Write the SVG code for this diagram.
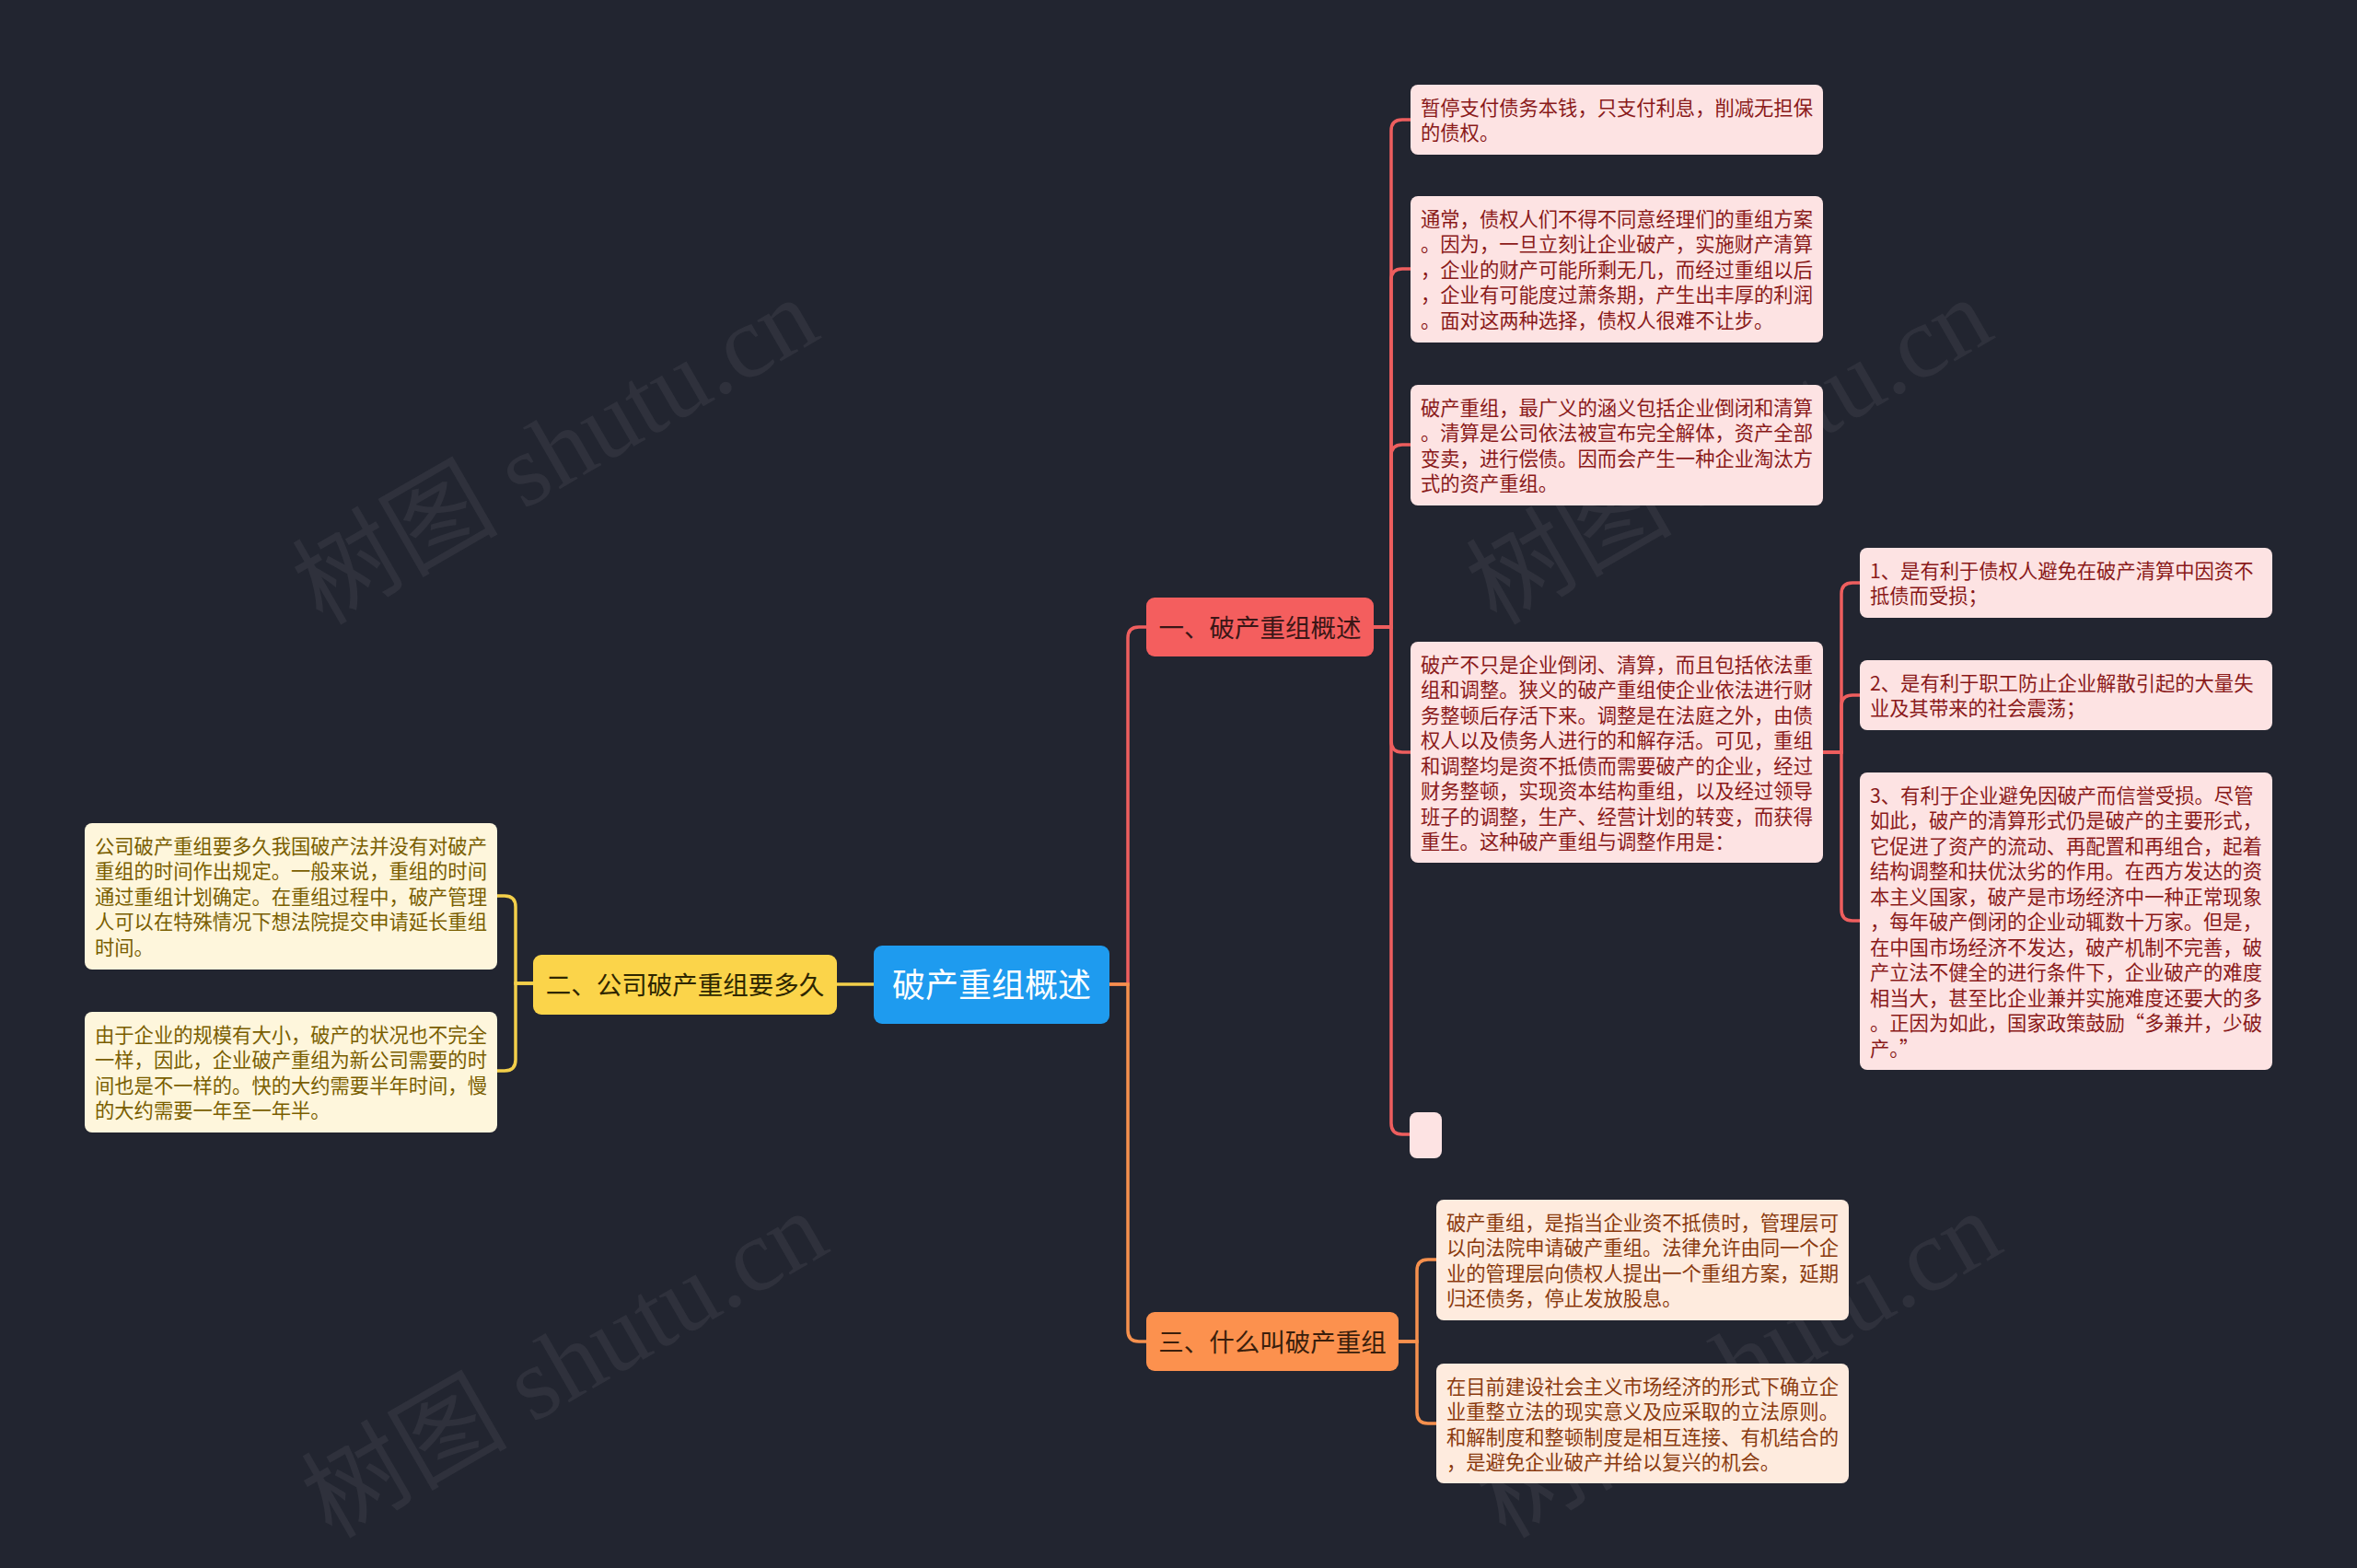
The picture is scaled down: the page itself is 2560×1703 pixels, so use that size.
<svg xmlns="http://www.w3.org/2000/svg" width="2560" height="1703" viewBox="0 0 2560 1703">
<style>
.bg{fill:#222530}
.wm{font-family:"Liberation Serif","Noto Sans CJK SC",serif;font-size:112px;fill:#ffffff;fill-opacity:0.06}
.c{fill:none;stroke-width:3.5;stroke-linecap:round}
.red{stroke:#EE5E5E}
.org{stroke:#F6904D}
.yel{stroke:#F3CF4A}
.t{font-family:"Noto Sans CJK SC","Noto Sans",sans-serif}
.leaf{font-size:21.3px}
.pk rect{fill:#FDE3E3}
.pk text{fill:#8A1A1A}
.yl rect{fill:#FEF6DC}
.yl text{fill:#7A5E00}
.og rect{fill:#FEEBDE}
.og text{fill:#8A3A0E}
.br{font-size:27.5px}
</style>
<rect class="bg" x="0" y="0" width="2560" height="1703"/>
<g id="watermark">
<text class="wm" transform="translate(350,680) rotate(-30)">树图 shutu.cn</text>
<text class="wm" transform="translate(1625,680) rotate(-30)">树图 shutu.cn</text>
<text class="wm" transform="translate(360,1672) rotate(-30)">树图 shutu.cn</text>
<text class="wm" transform="translate(1635,1672) rotate(-30)">树图 shutu.cn</text>
</g>
<g id="connectors">
<path class="c red" d="M1205,1069 H1225 V693 Q1225,681 1237,681 H1245"/>
<path class="c org" d="M1205,1069 H1225 V1445 Q1225,1457 1237,1457 H1245"/>
<path class="c yel" d="M949,1069 H909"/>
<path class="c yel" d="M579,1068 H560 V985 Q560,973 548,973 H540"/>
<path class="c yel" d="M579,1068 H560 V1151 Q560,1163 548,1163 H540"/>
<path class="c red" d="M1492,681 H1511 V142 Q1511,130 1523,130 H1532"/>
<path class="c red" d="M1492,681 H1511 V304 Q1511,292 1523,292 H1532"/>
<path class="c red" d="M1492,681 H1511 V495 Q1511,483 1523,483 H1532"/>
<path class="c red" d="M1492,681 H1511 V805 Q1511,817 1523,817 H1532"/>
<path class="c red" d="M1492,681 H1511 V1220 Q1511,1232 1523,1232 H1531"/>
<path class="c red" d="M1980,817 H2000 V645 Q2000,633 2012,633 H2020"/>
<path class="c red" d="M1980,817 H2000 V767 Q2000,755 2012,755 H2020"/>
<path class="c red" d="M1980,817 H2000 V988 Q2000,1000 2012,1000 H2020"/>
<path class="c org" d="M1519,1457 H1539 V1380 Q1539,1368 1551,1368 H1560"/>
<path class="c org" d="M1519,1457 H1539 V1534 Q1539,1546 1551,1546 H1560"/>
</g>
<g id="root">
<rect x="949" y="1027" width="256" height="85" rx="9" fill="#1E9BEF"/>
<text class="t" x="1077" y="1083" font-size="36" fill="#ffffff" text-anchor="middle">破产重组概述</text>
</g>
<g id="b1">
<rect x="1245" y="649" width="247" height="64" rx="9" fill="#F45E5E"/>
<text class="t br" x="1368.5" y="691.5" fill="#3A1616" text-anchor="middle">一、破产重组概述</text>
</g>
<g id="b2">
<rect x="579" y="1037" width="330" height="65" rx="9" fill="#FBD44A"/>
<text class="t br" x="744" y="1079.5" fill="#2E2600" text-anchor="middle">二、公司破产重组要多久</text>
</g>
<g id="b3">
<rect x="1245" y="1425" width="274" height="64" rx="9" fill="#FC914E"/>
<text class="t br" x="1382" y="1467.5" fill="#3A1E0C" text-anchor="middle">三、什么叫破产重组</text>
</g>
<g id="l1" class="pk">
<rect x="1532" y="92" width="448" height="76" rx="8"/>
<text class="t leaf" x="1543" y="124.5"><tspan x="1543">暂停支付债务本钱，只支付利息，削减无担保</tspan><tspan x="1543" dy="27.5">的债权。</tspan></text>
</g>
<g id="l2" class="pk">
<rect x="1532" y="213" width="448" height="159" rx="8"/>
<text class="t leaf" x="1543" y="245.5"><tspan x="1543">通常，债权人们不得不同意经理们的重组方案</tspan><tspan x="1543" dy="27.5">。因为，一旦立刻让企业破产，实施财产清算</tspan><tspan x="1543" dy="27.5">，企业的财产可能所剩无几，而经过重组以后</tspan><tspan x="1543" dy="27.5">，企业有可能度过萧条期，产生出丰厚的利润</tspan><tspan x="1543" dy="27.5">。面对这两种选择，债权人很难不让步。</tspan></text>
</g>
<g id="l3" class="pk">
<rect x="1532" y="418" width="448" height="131" rx="8"/>
<text class="t leaf" x="1543" y="450.5"><tspan x="1543">破产重组，最广义的涵义包括企业倒闭和清算</tspan><tspan x="1543" dy="27.5">。清算是公司依法被宣布完全解体，资产全部</tspan><tspan x="1543" dy="27.5">变卖，进行偿债。因而会产生一种企业淘汰方</tspan><tspan x="1543" dy="27.5">式的资产重组。</tspan></text>
</g>
<g id="l4" class="pk">
<rect x="1532" y="697" width="448" height="240" rx="8"/>
<text class="t leaf" x="1543" y="729.5"><tspan x="1543">破产不只是企业倒闭、清算，而且包括依法重</tspan><tspan x="1543" dy="27.5">组和调整。狭义的破产重组使企业依法进行财</tspan><tspan x="1543" dy="27.5">务整顿后存活下来。调整是在法庭之外，由债</tspan><tspan x="1543" dy="27.5">权人以及债务人进行的和解存活。可见，重组</tspan><tspan x="1543" dy="27.5">和调整均是资不抵债而需要破产的企业，经过</tspan><tspan x="1543" dy="27.5">财务整顿，实现资本结构重组，以及经过领导</tspan><tspan x="1543" dy="27.5">班子的调整，生产、经营计划的转变，而获得</tspan><tspan x="1543" dy="27.5">重生。这种破产重组与调整作用是：</tspan></text>
</g>
<g id="l5" class="pk">
<rect x="1531" y="1208" width="35" height="50" rx="8"/>
</g>
<g id="s1" class="pk">
<rect x="2020" y="595" width="448" height="76" rx="8"/>
<text class="t leaf" x="2031" y="627.5"><tspan x="2031">1、是有利于债权人避免在破产清算中因资不</tspan><tspan x="2031" dy="27.5">抵债而受损；</tspan></text>
</g>
<g id="s2" class="pk">
<rect x="2020" y="717" width="448" height="76" rx="8"/>
<text class="t leaf" x="2031" y="749.5"><tspan x="2031">2、是有利于职工防止企业解散引起的大量失</tspan><tspan x="2031" dy="27.5">业及其带来的社会震荡；</tspan></text>
</g>
<g id="s3" class="pk">
<rect x="2020" y="839" width="448" height="323" rx="8"/>
<text class="t leaf" x="2031" y="871.5"><tspan x="2031">3、有利于企业避免因破产而信誉受损。尽管</tspan><tspan x="2031" dy="27.5">如此，破产的清算形式仍是破产的主要形式，</tspan><tspan x="2031" dy="27.5">它促进了资产的流动、再配置和再组合，起着</tspan><tspan x="2031" dy="27.5">结构调整和扶优汰劣的作用。在西方发达的资</tspan><tspan x="2031" dy="27.5">本主义国家，破产是市场经济中一种正常现象</tspan><tspan x="2031" dy="27.5">，每年破产倒闭的企业动辄数十万家。但是，</tspan><tspan x="2031" dy="27.5">在中国市场经济不发达，破产机制不完善，破</tspan><tspan x="2031" dy="27.5">产立法不健全的进行条件下，企业破产的难度</tspan><tspan x="2031" dy="27.5">相当大，甚至比企业兼并实施难度还要大的多</tspan><tspan x="2031" dy="27.5">。正因为如此，国家政策鼓励“多兼并，少破</tspan><tspan x="2031" dy="27.5">产。”</tspan></text>
</g>
<g id="y1" class="yl">
<rect x="92" y="894" width="448" height="159" rx="8"/>
<text class="t leaf" x="103" y="926.5"><tspan x="103">公司破产重组要多久我国破产法并没有对破产</tspan><tspan x="103" dy="27.5">重组的时间作出规定。一般来说，重组的时间</tspan><tspan x="103" dy="27.5">通过重组计划确定。在重组过程中，破产管理</tspan><tspan x="103" dy="27.5">人可以在特殊情况下想法院提交申请延长重组</tspan><tspan x="103" dy="27.5">时间。</tspan></text>
</g>
<g id="y2" class="yl">
<rect x="92" y="1099" width="448" height="131" rx="8"/>
<text class="t leaf" x="103" y="1131.5"><tspan x="103">由于企业的规模有大小，破产的状况也不完全</tspan><tspan x="103" dy="27.5">一样，因此，企业破产重组为新公司需要的时</tspan><tspan x="103" dy="27.5">间也是不一样的。快的大约需要半年时间，慢</tspan><tspan x="103" dy="27.5">的大约需要一年至一年半。</tspan></text>
</g>
<g id="o1" class="og">
<rect x="1560" y="1303" width="448" height="131" rx="8"/>
<text class="t leaf" x="1571" y="1335.5"><tspan x="1571">破产重组，是指当企业资不抵债时，管理层可</tspan><tspan x="1571" dy="27.5">以向法院申请破产重组。法律允许由同一个企</tspan><tspan x="1571" dy="27.5">业的管理层向债权人提出一个重组方案，延期</tspan><tspan x="1571" dy="27.5">归还债务，停止发放股息。</tspan></text>
</g>
<g id="o2" class="og">
<rect x="1560" y="1481" width="448" height="130" rx="8"/>
<text class="t leaf" x="1571" y="1513.5"><tspan x="1571">在目前建设社会主义市场经济的形式下确立企</tspan><tspan x="1571" dy="27.5">业重整立法的现实意义及应采取的立法原则。</tspan><tspan x="1571" dy="27.5">和解制度和整顿制度是相互连接、有机结合的</tspan><tspan x="1571" dy="27.5">，是避免企业破产并给以复兴的机会。</tspan></text>
</g>
</svg>
